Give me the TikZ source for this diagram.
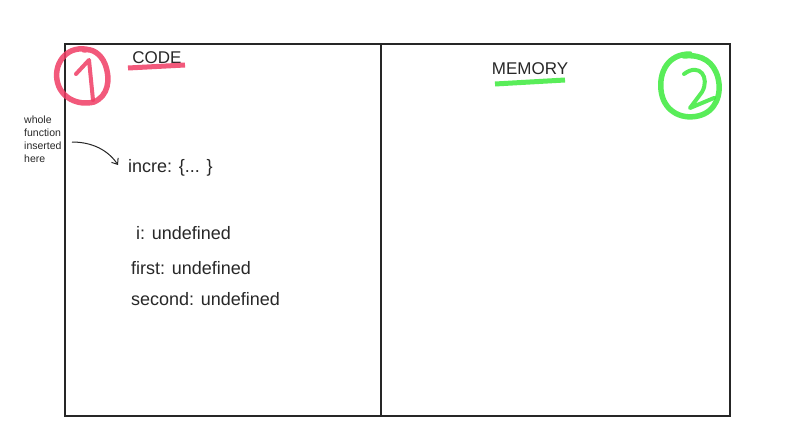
\documentclass[tikz,border=0pt]{standalone}
\usepackage{fontspec}
\setmainfont{Liberation Sans}
\usetikzlibrary{arrows.meta}
\definecolor{pinkhl}{RGB}{240,60,100}
\definecolor{greenhl}{RGB}{60,235,60}
\definecolor{txt}{RGB}{40,40,40}
\begin{document}
\begin{tikzpicture}[x=1pt,y=-1pt,
  frame/.style={draw=black!85,line width=2pt},
  lbl/.style={font=\fontsize{18}{20}\selectfont,text=txt,inner sep=0pt,anchor=west},
  small/.style={font=\fontsize{10.5}{13}\selectfont,text=txt,align=left,inner sep=0pt,anchor=north west},
  pinkpen/.style={draw=pinkhl,line width=5.5pt,line cap=round,line join=round,opacity=0.85},
  greenpen/.style={draw=greenhl,line width=5.5pt,line cap=round,line join=round,opacity=0.85}]
\useasboundingbox (0,0) rectangle (800,433);
\fill[white] (0,0) rectangle (800,433);
\coordinate (tl) at (65,44);
\coordinate (br) at (730,416);
\draw[frame] (tl) rectangle (br);
\draw[frame] (381,44) -- (381,416);
% titles
\node[font=\fontsize{17}{19}\selectfont,text=txt,inner sep=0pt] (code) at (157,58) {CODE};
\node[font=\fontsize{17}{19}\selectfont,text=txt,inner sep=0pt] (mem) at (530,69) {MEMORY};
% underlines
\draw[pinkhl,line width=5pt,opacity=0.85] (128,68) -- (185,65);
\draw[greenhl,line width=5pt,opacity=0.85] (495,84) -- (565,80);
% circled 1
\draw[pinkpen] (90,50) .. controls (68,44) and (54,62) .. (57,80) .. controls (60,98) and (78,106) .. (94,102) .. controls (108,96) and (111,80) .. (105,64) .. controls (101,54) and (92,48) .. (84,50);
\draw[pinkpen,line width=4pt] (76,74) -- (89,60) -- (93,100);
% circled 2
\draw[greenpen] (690,54) .. controls (668,54) and (659,72) .. (661,90) .. controls (663,110) and (680,120) .. (698,116) .. controls (716,112) and (722,94) .. (718,78) .. controls (714,62) and (702,54) .. (684,56);
\draw[greenpen,line width=4pt] (684,74) .. controls (700,62) and (710,78) .. (702,92) -- (690,108) -- (714,98);
% code texts
\node[lbl] (incre) at (128,168) {incre: \{... \}};
\node[lbl] (i) at (136,233) {i: undefined};
\node[lbl] (first) at (131,268) {first: undefined};
\node[lbl] (second) at (131,299) {second: undefined};
% note
\node[small] (note) at (24,116) {whole\\function\\inserted\\here};
\coordinate (a0) at (72,142);
\draw[black!85,line width=1pt,-{Straight Barb[length=5pt,width=8pt]}] (a0) .. controls (92,142) and (108,150) .. (118,165);
\end{tikzpicture}
\end{document}
